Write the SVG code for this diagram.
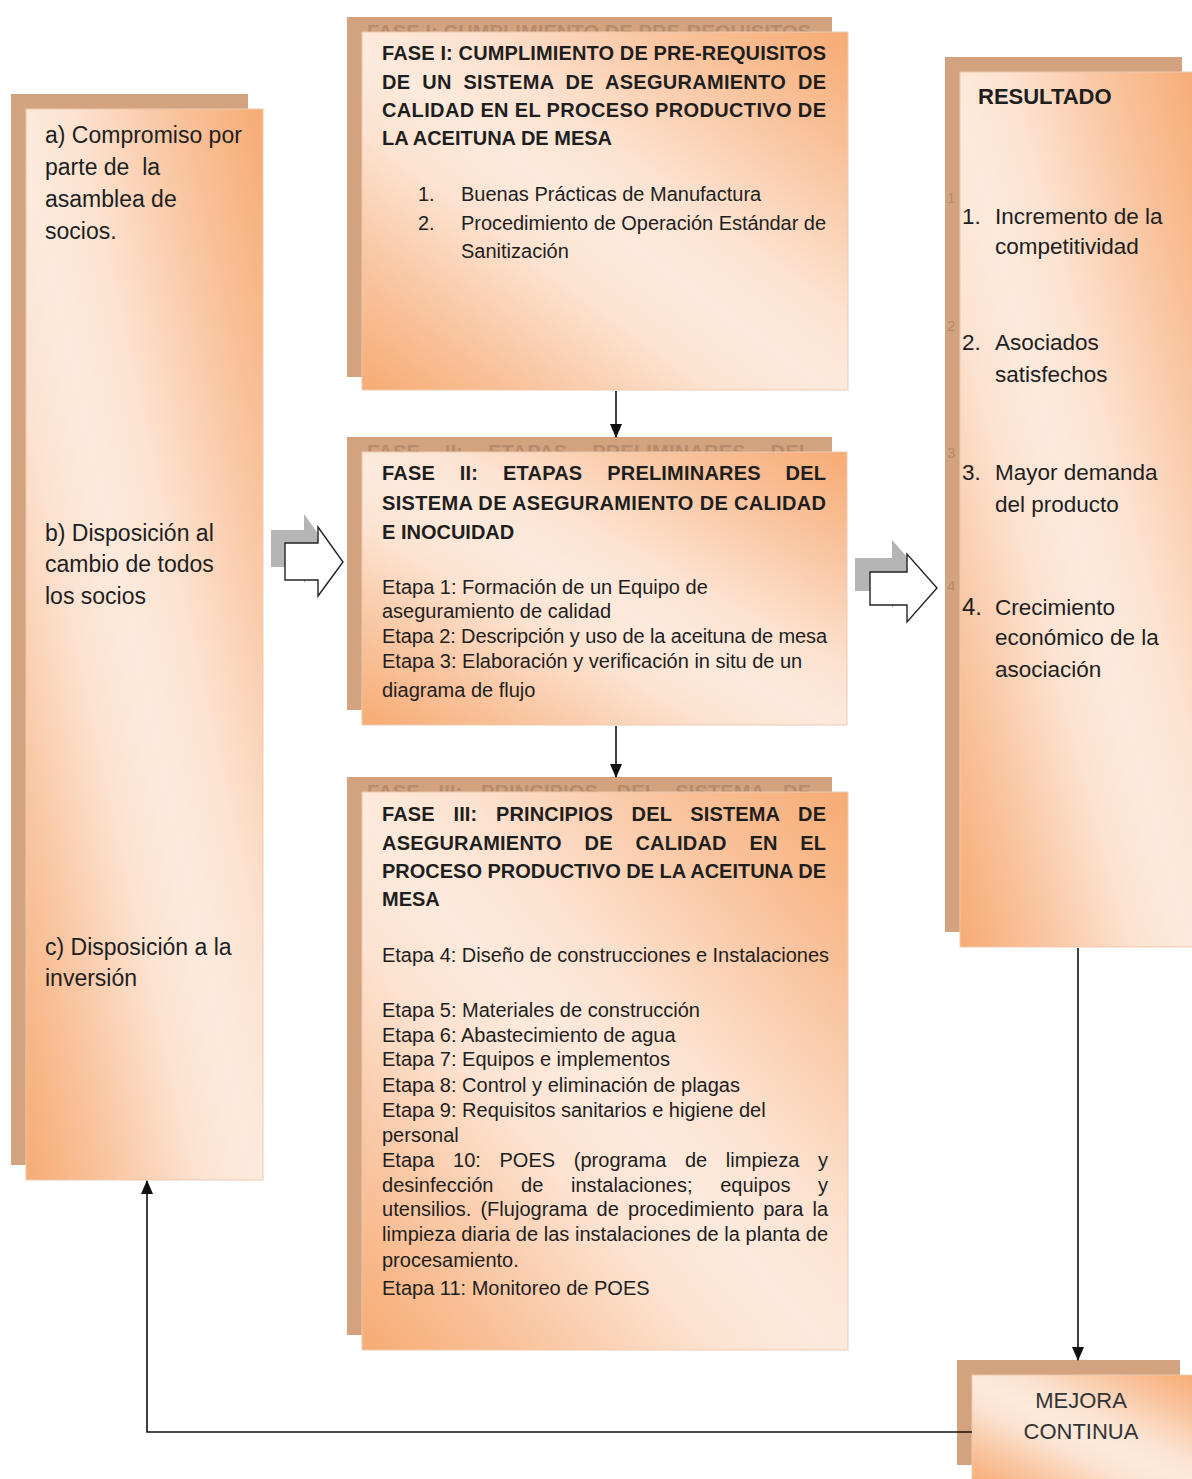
<svg xmlns="http://www.w3.org/2000/svg" width="1192" height="1479" viewBox="0 0 1192 1479">
  <defs>
    <style>
      text { font-family: "Liberation Sans", Arial, sans-serif; fill: #1e1e1e; }
      .hd { font-size: 20px; font-weight: bold; }
      .bd { font-size: 20px; }
      .lg { font-size: 23px; }
      .rs { font-size: 22.5px; }
      .mj { font-size: 22px; fill: #333; text-anchor: middle; }
      .ghost { font-size: 20px; font-weight: bold; fill: #7a5a44; opacity: 0.3; }
      .gnum { font-size: 15px; fill: #9c7a60; opacity: 0.55; }
      .back { fill: #d3a27f; }
      .front { fill: url(#boxFill); stroke: #eccab0; stroke-width: 1; }
      .conn { fill: none; stroke: #111; stroke-width: 1.6; }
      .block { fill: #fff; stroke: #222; stroke-width: 1.4; stroke-linejoin: miter; }
      .blockShade { fill: #b5b5b5; }
    </style>
    <linearGradient id="boxFill" x1="1" y1="0" x2="0" y2="1">
      <stop offset="0" stop-color="#f7ab73"/>
      <stop offset="0.18" stop-color="#f9c29b"/>
      <stop offset="0.4" stop-color="#fce2d0"/>
      <stop offset="0.52" stop-color="#fdeadc"/>
      <stop offset="0.64" stop-color="#fce2d0"/>
      <stop offset="0.84" stop-color="#f9c29b"/>
      <stop offset="1" stop-color="#f7ab73"/>
    </linearGradient>
    <marker id="arrowHead" markerUnits="userSpaceOnUse" markerWidth="14" markerHeight="12" refX="13" refY="6" orient="auto">
      <path d="M0,0 L14,6 L0,12 z" fill="#111"/>
    </marker>
  </defs>

  <rect width="1192" height="1479" fill="#fff"/>

  <!-- Left column: commitments -->
  <g id="node-compromisos">
    <rect class="back" x="11" y="94" width="237" height="1071"/>
    <rect class="front" x="26" y="109" width="237" height="1071"/>
    <text class="lg" x="45" y="143">a) Compromiso por</text>
    <text class="lg" x="45" y="175" xml:space="preserve">parte de  la</text>
    <text class="lg" x="45" y="207">asamblea de</text>
    <text class="lg" x="45" y="239">socios.</text>
    <text class="lg" x="45" y="541">b) Disposición al</text>
    <text class="lg" x="45" y="572">cambio de todos</text>
    <text class="lg" x="45" y="604">los socios</text>
    <text class="lg" x="45" y="955">c) Disposición a la</text>
    <text class="lg" x="45" y="986">inversión</text>
  </g>

  <!-- Phase I -->
  <g id="node-fase1">
    <rect class="back" x="347" y="17" width="485" height="360"/>
    <text class="ghost" x="367" y="39" textLength="444" lengthAdjust="spacing">FASE I: CUMPLIMIENTO DE PRE-REQUISITOS</text>
    <rect class="front" x="362" y="32" width="486" height="358"/>
    <text class="hd" x="382" y="60" textLength="444" lengthAdjust="spacing">FASE I: CUMPLIMIENTO DE PRE-REQUISITOS</text>
    <text class="hd" x="382" y="89" textLength="444" lengthAdjust="spacing" word-spacing="6">DE UN SISTEMA DE ASEGURAMIENTO DE</text>
    <text class="hd" x="382" y="117" textLength="444" lengthAdjust="spacing">CALIDAD EN EL PROCESO PRODUCTIVO DE</text>
    <text class="hd" x="382" y="145">LA ACEITUNA DE MESA</text>
    <text class="bd" x="418" y="201">1.</text>
    <text class="bd" x="461" y="201">Buenas Prácticas de Manufactura</text>
    <text class="bd" x="418" y="230">2.</text>
    <text class="bd" x="461" y="230" textLength="365" lengthAdjust="spacing">Procedimiento de Operación Estándar de</text>
    <text class="bd" x="461" y="258">Sanitización</text>
  </g>

  <!-- Phase II -->
  <g id="node-fase2">
    <rect class="back" x="347" y="437" width="485" height="273"/>
    <text class="ghost" x="367" y="459" textLength="444" lengthAdjust="spacing" word-spacing="19">FASE II: ETAPAS PRELIMINARES DEL</text>
    <rect class="front" x="362" y="452" width="485" height="273"/>
    <text class="hd" x="382" y="480" textLength="444" lengthAdjust="spacing" word-spacing="19">FASE II: ETAPAS PRELIMINARES DEL</text>
    <text class="hd" x="382" y="510" textLength="444" lengthAdjust="spacing">SISTEMA DE ASEGURAMIENTO DE CALIDAD</text>
    <text class="hd" x="382" y="539">E INOCUIDAD</text>
    <text class="bd" x="382" y="594">Etapa 1: Formación de un Equipo de</text>
    <text class="bd" x="382" y="618">aseguramiento de calidad</text>
    <text class="bd" x="382" y="643" textLength="445" lengthAdjust="spacing">Etapa 2: Descripción y uso de la aceituna de mesa</text>
    <text class="bd" x="382" y="668">Etapa 3: Elaboración y verificación in situ de un</text>
    <text class="bd" x="382" y="697">diagrama de flujo</text>
  </g>

  <!-- Phase III -->
  <g id="node-fase3">
    <rect class="back" x="347" y="777" width="485" height="558"/>
    <text class="ghost" x="367" y="799" textLength="444" lengthAdjust="spacing" word-spacing="13">FASE III: PRINCIPIOS DEL SISTEMA DE</text>
    <rect class="front" x="362" y="792" width="486" height="558"/>
    <text class="hd" x="382" y="821" textLength="444" lengthAdjust="spacing" word-spacing="13">FASE III: PRINCIPIOS DEL SISTEMA DE</text>
    <text class="hd" x="382" y="850" textLength="444" lengthAdjust="spacing" word-spacing="17">ASEGURAMIENTO DE CALIDAD EN EL</text>
    <text class="hd" x="382" y="878" textLength="444" lengthAdjust="spacing">PROCESO PRODUCTIVO DE LA ACEITUNA DE</text>
    <text class="hd" x="382" y="906">MESA</text>
    <text class="bd" x="382" y="962" textLength="447" lengthAdjust="spacing">Etapa 4: Diseño de construcciones e Instalaciones</text>
    <text class="bd" x="382" y="1017">Etapa 5: Materiales de construcción</text>
    <text class="bd" x="382" y="1042">Etapa 6: Abastecimiento de agua</text>
    <text class="bd" x="382" y="1066">Etapa 7: Equipos e implementos</text>
    <text class="bd" x="382" y="1092">Etapa 8: Control y eliminación de plagas</text>
    <text class="bd" x="382" y="1117">Etapa 9: Requisitos sanitarios e higiene del</text>
    <text class="bd" x="382" y="1142">personal</text>
    <text class="bd" x="382" y="1167" textLength="446" lengthAdjust="spacing" word-spacing="13">Etapa 10: POES (programa de limpieza y</text>
    <text class="bd" x="382" y="1192" textLength="446" lengthAdjust="spacing" word-spacing="22">desinfección de instalaciones; equipos y</text>
    <text class="bd" x="382" y="1216" textLength="446" lengthAdjust="spacing" word-spacing="3.5">utensilios. (Flujograma de procedimiento para la</text>
    <text class="bd" x="382" y="1241" textLength="446" lengthAdjust="spacing">limpieza diaria de las instalaciones de la planta de</text>
    <text class="bd" x="382" y="1267">procesamiento.</text>
    <text class="bd" x="382" y="1295">Etapa 11: Monitoreo de POES</text>
  </g>

  <!-- Results -->
  <g id="node-resultado">
    <rect class="back" x="945" y="57" width="237" height="875"/>
    <text class="gnum" x="947" y="203">1</text>
    <text class="gnum" x="947" y="331">2</text>
    <text class="gnum" x="947" y="458">3</text>
    <text class="gnum" x="947" y="591">4</text>
    <rect class="front" x="960" y="72" width="240" height="875"/>
    <text class="hd" x="978" y="104" style="font-size:22px">RESULTADO</text>
    <text class="rs" x="962" y="224">1.</text>
    <text class="rs" x="995" y="224">Incremento de la</text>
    <text class="rs" x="995" y="254">competitividad</text>
    <text class="rs" x="962" y="350">2.</text>
    <text class="rs" x="995" y="350">Asociados</text>
    <text class="rs" x="995" y="382">satisfechos</text>
    <text class="rs" x="962" y="480">3.</text>
    <text class="rs" x="995" y="480">Mayor demanda</text>
    <text class="rs" x="995" y="512">del producto</text>
    <text class="rs" x="962" y="615" style="font-size:24px">4.</text>
    <text class="rs" x="995" y="615">Crecimiento</text>
    <text class="rs" x="995" y="645">económico de la</text>
    <text class="rs" x="995" y="677">asociación</text>
  </g>

  <!-- Continuous improvement -->
  <g id="node-mejora">
    <rect class="back" x="957" y="1360" width="223" height="105"/>
    <rect class="front" x="972" y="1375" width="225" height="110"/>
    <text class="mj" x="1081" y="1408">MEJORA</text>
    <text class="mj" x="1081" y="1439">CONTINUA</text>
  </g>

  <!-- Connectors -->
  <g id="connectors">
    <line class="conn" x1="616" y1="391" x2="616" y2="437" marker-end="url(#arrowHead)"/>
    <line class="conn" x1="616" y1="726" x2="616" y2="777" marker-end="url(#arrowHead)"/>
    <line class="conn" x1="1078" y1="948" x2="1078" y2="1360" marker-end="url(#arrowHead)"/>
    <polyline class="conn" points="972,1432 147,1432 147,1181" marker-end="url(#arrowHead)"/>

    <!-- block arrows between columns -->
    <path class="blockShade" d="M271,530 H304 V514 L329,549 L304,583 V567 H271 Z"/>
    <path class="block" d="M285,543 H318 V527 L343,562 L318,596 V580 H285 Z"/>
    <path class="blockShade" d="M855,558 H892 V540 L922,574 L892,608 V591 H855 Z"/>
    <path class="block" d="M870,572 H907 V554 L937,588 L907,622 V605 H870 Z"/>
  </g>
</svg>
